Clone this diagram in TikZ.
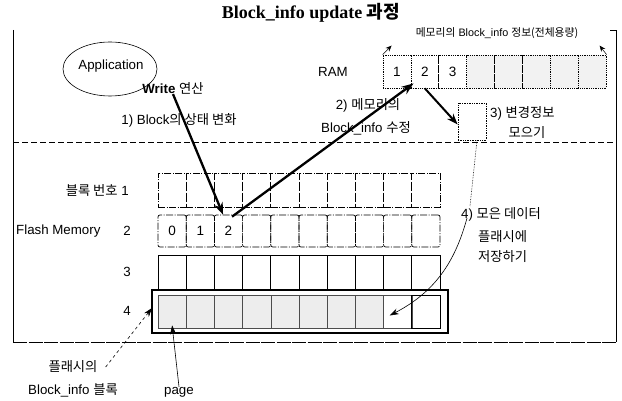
\documentclass[tikz,border=0pt]{standalone}
\usepackage{fontspec}
\setmainfont{Liberation Sans}
\newfontfamily\kr{Noto Sans CJK KR}
\newfontfamily\titfont{Liberation Serif}
\usetikzlibrary{arrows.meta}
\newcommand{\K}[1]{{\kr #1}}
\tikzset{
  lbl/.style={inner sep=0pt, font=\fontsize{13.3}{15}\selectfont},
  small/.style={inner sep=0pt, font=\fontsize{10.8}{12}\selectfont},
  cellbox/.style={draw, minimum width=28.2pt, inner sep=0pt, line width=0.7pt, font=\fontsize{13.5}{15}\selectfont},
  ramcell/.style={draw, densely dotted, minimum width=27.9pt, minimum height=33pt, inner sep=0pt, line width=0.8pt, font=\fontsize{13.5}{15}\selectfont},
  bigarrow/.style={line width=2.3pt, -{Stealth[length=12pt,width=9pt]}},
  thinarrow/.style={line width=0.6pt, -{Stealth[length=9pt,width=6pt]}},
}
\begin{document}
\begin{tikzpicture}[x=1pt,y=-1pt]
\useasboundingbox (0,0) rectangle (622,401);
% title
\node[inner sep=0pt, font=\fontsize{18}{20}\selectfont] (title) at (311,13) {\titfont\bfseries Block\_info update {\kr\bfseries 과정}};
% frame
\draw[line width=0.7pt] (13,30) -- (13,342);
\draw[line width=0.7pt] (610,30) -- (616,30) -- (616,342);
\draw[line width=0.8pt, dash pattern=on 14pt off 1.5pt] (13,342) -- (616,342);
\draw[line width=0.6pt, dash pattern=on 6pt off 3pt] (13,142) -- (616,142);
% application
\draw[line width=0.6pt] (110,69) ellipse [x radius=47, y radius=27];
\node[lbl] (app) at (111,66) {Application};
\node[lbl] (write) at (173,88) {\textbf{Write} \K{연산}};
\node[lbl] (step1) at (179,120) {1) Block\K{의 상태 변화}};
% RAM
\node[lbl] (ram) at (333,72) {RAM};
\foreach \i in {0,...,7} {
  \node[ramcell, fill=black!5] (ram\i) at ({396.95+27.9*\i},71.5) {};
}
\node[ramcell, fill=white] at (ram0) {1};
\node[ramcell, fill=white] at (ram1) {2};
\node[ramcell, fill=white] at (ram2) {3};
\node[small] (ramcap) at (497,33) {\K{메모리의} Block\_info \K{정보(전체용량)}};
\draw[line width=0.5pt, -{Stealth[length=6pt,width=5pt]}] (ram0.north west) -- ++(9,-9);
\draw[line width=0.5pt, -{Stealth[length=6pt,width=5pt]}] (ram7.north east) -- ++(-7,-9);
\node[lbl] (step2a) at (368,105) {2) \K{메모리의}};
\node[lbl] (step2b) at (366,128) {Block\_info \K{수정}};
% step 3
\node[draw, densely dotted, line width=0.7pt, minimum width=28pt, minimum height=37pt, inner sep=0pt] (box3) at (472,121.5) {};
\node[lbl, anchor=west] (step3a) at (490,113) {3) \K{변경정보}};
\node[lbl] (step3b) at (527,133) {\K{모으기}};
% flash rows
\node[lbl, anchor=east] (rl1) at (129,190) {\K{블록 번호} 1};
\node[lbl, anchor=west] (flash) at (16,231) {Flash Memory};
\node[lbl] (rl2) at (127,231) {2};
\node[lbl] (rl3) at (127,272) {3};
\node[lbl] (rl4) at (127,311) {4};
\foreach \i in {0,...,9} {
  \node[cellbox, minimum height=34pt, dash pattern=on 7pt off 1.5pt on 1pt off 1.5pt] (r1c\i) at ({172.1+28.2*\i},190) {};
  \node[cellbox, minimum height=32pt, rounded corners=2pt, dash pattern=on 7pt off 1.5pt on 1pt off 1.5pt] (r2c\i) at ({172.1+28.2*\i},231) {};
  \node[cellbox, minimum height=35pt] (r3c\i) at ({172.1+28.2*\i},272.5) {};
}
\foreach \i in {0,...,7} {
  \node[cellbox, minimum height=33pt, fill=black!7, draw=black!70, line width=0.6pt] (r4c\i) at ({172.1+28.2*\i},311.5) {};
}
\node[cellbox, minimum height=33pt, draw=black!70, line width=0.6pt] (r4c8) at ({172.1+28.2*8},311.5) {};
\node[cellbox, minimum height=33pt] (r4c9) at ({172.1+28.2*9},311.5) {};
\node[cellbox, draw=none] at (r2c0) {0};
\node[cellbox, draw=none] at (r2c1) {1};
\node[cellbox, draw=none] at (r2c2) {2};
\draw[line width=2pt] (152,290) rectangle (448,333);
\coordinate (r4frameW) at (152,308);
% arrows 1-3
\draw[bigarrow] (write.south) -- ([xshift=9pt]r2c2.north west);
\draw[bigarrow] ([xshift=18pt,yshift=-2pt]r2c2.north west) -- ([xshift=3pt,yshift=5pt]ram1.south west);
\draw[line width=2pt, -{Stealth[length=11pt,width=8pt]}] (ram1.south) -- ([yshift=-3pt]box3.west);
% step 4
\node[lbl, anchor=west] (step4a) at (461,214) {4) \K{모은 데이터}};
\node[lbl, anchor=west] (step4b) at (478,237) {\K{플래시에}};
\node[lbl, anchor=west] (step4c) at (478,257) {\K{저장하기}};
\draw[densely dotted, line width=0.6pt] ([xshift=5pt]box3.south) -- (470,206);
\draw[thinarrow] ([xshift=6pt,yshift=3pt]step4a.south west) .. controls (455,262) and (435,292) .. ([xshift=-8pt,yshift=-4pt]r4c8.center);
% bottom labels
\node[lbl] (fl1) at (73,367) {\K{플래시의}};
\node[lbl] (fl2) at (73,390) {Block\_info \K{블록}};
\node[lbl] (page) at (179,392) {page};
\draw[thinarrow, dashed] ([xshift=8pt]fl1.east) -- (r4frameW);
\draw[thinarrow] (page.north) -- ([yshift=3pt]r4c0.south);
\end{tikzpicture}
\end{document}
